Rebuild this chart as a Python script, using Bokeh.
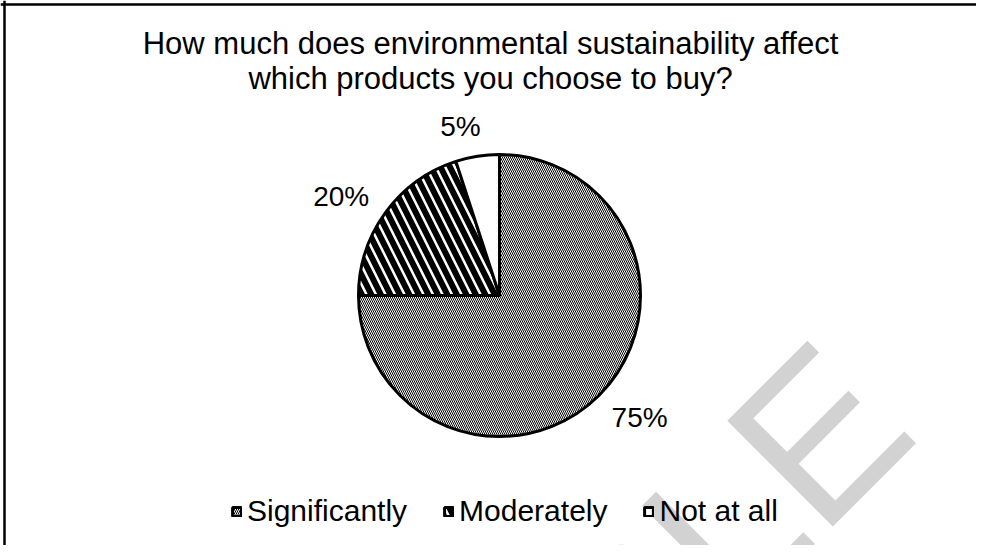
import numpy as np
from bokeh.plotting import figure
from bokeh.models import Range1d, Label, Legend, LegendItem, Span
from bokeh.embed import file_html
from bokeh.resources import INLINE

# ---- data ----
title_lines = ["How much does environmental sustainability affect",
               "which products you choose to buy?"]
categories = ["Significantly", "Moderately", "Not at all"]
values = [75, 20, 5]
watermark = "SAMPLE"

FONT = "Liberation Sans"
W, H = 976, 545


def Y(ref_y):
    """convert a pixel y (from top) to data y (from bottom of the figure)"""
    return H - ref_y


p = figure(width=W, height=H, x_range=Range1d(0, W), y_range=Range1d(0, H),
           output_backend="svg", toolbar_location=None,
           x_axis_type=None, y_axis_type=None, min_border=0,
           outline_line_color=None)
p.grid.visible = False
p.background_fill_color = "white"
p.border_fill_color = "white"

# chart-area border (only left / top are visible in the reference crop)
p.add_layout(Span(location=4, dimension="height", line_color="black", line_width=2.5))
p.add_layout(Span(location=Y(4), dimension="width", line_color="black", line_width=2.5))

# watermark
p.add_layout(Label(x=869, y=Y(383), text=watermark, angle=45, angle_units="deg",
                   text_align="right", text_baseline="middle",
                   text_font=FONT, text_font_size="217px", text_color="#d2d2d2",
                   level="underlay"))

# title
for i, line in enumerate(title_lines):
    p.add_layout(Label(x=490, y=Y(43 + 35 * i), text=line, text_align="center",
                       text_baseline="middle", text_font=FONT,
                       text_font_size="31px", text_color="black"))

# pie
cx, cy, R = 499, Y(295), 141
styles = [dict(hatch_pattern="\\", hatch_scale=4, hatch_weight=1),
          dict(hatch_pattern="\\", hatch_scale=19, hatch_weight=6),
          dict()]
total = float(sum(values))
frac = np.cumsum([0] + values) / total
theta = frac * 2 * np.pi          # clockwise from 12 o'clock
renderers = []
for i, cat in enumerate(categories):
    r = p.wedge(x=cx, y=cy, radius=R, radius_units="screen",
                start_angle=np.pi / 2 - theta[i], end_angle=np.pi / 2 - theta[i + 1],
                direction="clock", fill_color="white", line_color="black",
                line_width=3, hatch_color="black", **styles[i])
    renderers.append(r)

# data labels (outside end)
lab_fs = 28
gap = 15
shift = np.deg2rad(4)
for i, v in enumerate(values):
    mid = (theta[i] + theta[i + 1]) / 2 - shift
    ux, uy = np.sin(mid), np.cos(mid)      # data-space direction (y up)
    txt = f"{v}%"
    w = 0.556 * lab_fs * (len(txt) - 1) + 0.889 * lab_fs
    h = 26
    sup = abs(ux) * w / 2 + abs(uy) * h / 2
    d = R + gap + sup
    p.add_layout(Label(x=cx + ux * d, y=cy + uy * d, text=txt, text_align="center",
                       text_baseline="middle", text_font=FONT,
                       text_font_size=f"{lab_fs}px", text_color="black"))

legend = Legend(items=[LegendItem(label=c, renderers=[r]) for c, r in zip(categories, renderers)],
                orientation="horizontal", location=(231, 17),
                glyph_width=11, glyph_height=11, label_standoff=5, spacing=36,
                padding=0, margin=0, border_line_color=None, background_fill_alpha=0,
                label_text_font=FONT, label_text_font_size="30px", label_text_color="black")
p.add_layout(legend)

open("out.html", "w").write(file_html(p, INLINE))
